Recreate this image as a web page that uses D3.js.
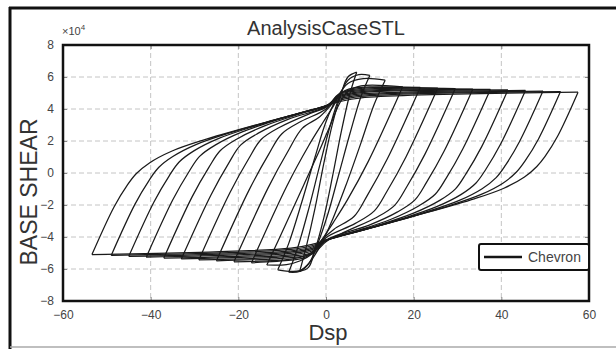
<!DOCTYPE html>
<html>
<head>
<meta charset="utf-8">
<script src="https://cdn.jsdelivr.net/npm/d3@7"></script>
<style>
body { margin: 0; background: #fff; }
svg { display: block; }
text { font-family: "Liberation Sans", Arial, sans-serif; }
</style>
</head>
<body>
<svg width="616" height="349"></svg>
<script>
// axis ticks
const xTicks = [-60, -40, -20, 0, 20, 40, 60];
const yTicks = [-8, -6, -4, -2, 0, 2, 4, 6, 8];
const yExponent = 4;
const chartTitle = "AnalysisCaseSTL";
const xLabel = "Dsp";
const yLabel = "BASE SHEAR";
const seriesName = "Chevron";

// reloading branches [dsp, shear x1e4], negative tip -> positive tip
const loadBranches = [
    [[-6,-6.15],[-4.5,-4.6],[-2.5,-2.2],[-0.5,0.6],[1.5,3.1],[3.5,5.0],[5,6.0],[7,6.3]],
    [[-8.5,-6.2],[-6.5,-4.7],[-4,-2.3],[-1.5,0.4],[1,3.0],[3,4.7],[5,5.8],[7.5,6.15],[10,6.1]],
    [[-11,-6.05],[-8.5,-4.4],[-5.5,-1.8],[-2.5,1.0],[0,3.2],[2.5,4.7],[5,5.6],[8.5,5.9],[13.5,5.8]],
    [[-13.5,-5.75],[-9,-3.1],[-5,-0.7],[-1.5,1.4],[1,3.0],[3,4.3],[5,5.1],[8,5.45],[17.5,5.39]],
    [[-17,-5.61],[-8.87,-0.78],[-3.99,1.69],[-0.74,3.14],[1.5,4.1],[3.5,5.0],[6,5.3],[10,5.38],[21.5,5.35]],
    [[-21,-5.55],[-13.21,-0.93],[-8.54,1.42],[-5.43,2.79],[-1.5,3.5],[1,4.2],[3.5,5.0],[8,5.29],[25.5,5.31]],
    [[-25,-5.49],[-17.56,-1.07],[-13.09,1.16],[-10.11,2.44],[-5.64,3.23],[0,4.0],[3,4.95],[8,5.21],[29.5,5.28]],
    [[-29,-5.43],[-21.9,-1.22],[-17.64,0.89],[-14.8,2.09],[-10.54,2.86],[-3.44,3.74],[0,4.1],[3,4.9],[8,5.15],[33.5,5.25]],
    [[-33,-5.37],[-26.24,-1.37],[-22.19,0.62],[-19.49,1.74],[-15.44,2.49],[-8.68,3.35],[0,4.15],[3,4.83],[8,5.08],[37.5,5.22]],
    [[-37,-5.32],[-30.58,-1.51],[-26.72,0.35],[-24.15,1.39],[-20.3,2.13],[-13.87,2.96],[-4.88,3.78],[0,4.2],[3,4.77],[8,5.02],[41.5,5.19]],
    [[-41,-5.26],[-34.92,-1.66],[-31.27,0.08],[-28.84,1.04],[-25.19,1.76],[-19.11,2.57],[-10.6,3.36],[-4,3.9],[0,4.2],[3,4.69],[8,4.94],[45.5,5.16]],
    [[-45,-5.21],[-39.25,-1.81],[-35.8,-0.19],[-33.5,0.69],[-30.05,1.4],[-24.3,2.18],[-16.25,2.93],[-7,3.67],[0,4.2],[3,4.61],[8,4.86],[49.5,5.12]],
    [[-49,-5.15],[-43.6,-1.96],[-40.35,-0.46],[-38.19,0.34],[-34.95,1.03],[-29.54,1.79],[-21.98,2.51],[-10,3.45],[0,4.2],[3,4.54],[8,4.79],[53.5,5.09]],
    [[-53.4,-5.1],[-48.36,-2.12],[-45.33,-0.76],[-43.31,-0.05],[-40.28,0.63],[-35.24,1.36],[-28.18,2.04],[-12,3.3],[0,4.2],[3,4.45],[8,4.7],[57.5,5.05]]
];

// unloading branches, positive tip -> negative tip
const unloadBranches = [
    [[7,6.3],[5.5,5.0],[3.5,2.6],[1.5,-0.2],[-0.5,-2.8],[-2.5,-4.8],[-4,-5.9],[-6,-6.15]],
    [[10,6.1],[8,4.8],[5.5,2.5],[3,0],[0.5,-2.5],[-2,-4.5],[-4,-5.7],[-6,-6.15],[-8.5,-6.2]],
    [[13.5,5.8],[11,4.3],[8,1.9],[4.5,-0.8],[1.5,-2.9],[-1,-4.4],[-3.5,-5.5],[-6,-6.1],[-11,-6.05]],
    [[17.5,5.39],[9.62,0.71],[4.88,-1.68],[1.73,-3.07],[-1,-4.2],[-3,-5.0],[-6,-5.5],[-9,-5.72],[-13.5,-5.75]],
    [[21.5,5.35],[13.94,0.86],[9.4,-1.41],[6.38,-2.72],[1.84,-3.51],[-1,-4.2],[-3,-4.9],[-5,-5.3],[-8,-5.45],[-17,-5.61]],
    [[25.5,5.31],[18.27,1.02],[13.92,-1.14],[11.03,-2.37],[6.69,-3.15],[0,-4.04],[-2,-4.7],[-4,-5.1],[-8,-5.38],[-21,-5.55]],
    [[29.5,5.28],[22.58,1.18],[18.43,-0.86],[15.66,-2.02],[11.51,-2.78],[4.59,-3.65],[0,-4.3],[-3,-5.04],[-8,-5.29],[-25,-5.49]],
    [[33.5,5.25],[26.9,1.34],[22.93,-0.59],[20.29,-1.68],[16.33,-2.43],[9.72,-3.27],[0.48,-4.12],[-3,-4.95],[-8,-5.2],[-29,-5.43]],
    [[37.5,5.22],[31.2,1.5],[27.43,-0.32],[24.91,-1.33],[21.13,-2.06],[14.84,-2.89],[6.03,-3.7],[0,-4.22],[-3,-4.86],[-8,-5.11],[-33,-5.37]],
    [[41.5,5.19],[35.52,1.65],[31.93,-0.05],[29.54,-0.99],[25.95,-1.71],[19.97,-2.51],[11.6,-3.29],[0,-4.2],[-3,-4.77],[-8,-5.02],[-37,-5.32]],
    [[45.5,5.16],[39.84,1.81],[36.44,0.22],[34.17,-0.64],[30.77,-1.35],[25.11,-2.12],[17.18,-2.87],[8,-3.6],[0,-4.2],[-3,-4.69],[-8,-4.94],[-41,-5.26]],
    [[49.5,5.12],[44.16,1.97],[40.96,0.49],[38.82,-0.29],[35.62,-0.98],[30.28,-1.73],[22.8,-2.44],[10,-3.45],[0,-4.2],[-3,-4.61],[-8,-4.86],[-45,-5.21]],
    [[53.5,5.09],[48.48,2.13],[45.46,0.77],[43.45,0.06],[40.44,-0.62],[35.41,-1.34],[28.38,-2.02],[14,-3.15],[0,-4.2],[-3,-4.53],[-8,-4.78],[-49,-5.15]],
    [[57.5,5.05],[52.8,2.28],[49.98,1.04],[48.1,0.41],[45.28,-0.25],[40.58,-0.95],[34.0,-1.6],[20,-2.7],[8,-3.6],[0,-4.2],[-3,-4.45],[-8,-4.7],[-53.4,-5.1]]
];

const svg = d3.select("svg");
const plot = {left: 63, right: 589, top: 45, bottom: 301};

const x = d3.scaleLinear().domain([-60, 60]).range([plot.left, plot.right]);
const y = d3.scaleLinear().domain([-8, 8]).range([plot.bottom, plot.top]);

// outer frame
svg.append("line").attr("x1", 10).attr("x2", 10).attr("y1", 7).attr("y2", 349)
    .attr("stroke", "#111").attr("stroke-width", 3);
svg.append("line").attr("x1", 9).attr("x2", 616).attr("y1", 8).attr("y2", 8)
    .attr("stroke", "#111").attr("stroke-width", 3);
svg.append("line").attr("x1", 10).attr("x2", 616).attr("y1", 347).attr("y2", 347)
    .attr("stroke", "#aaa").attr("stroke-width", 1.5);

// grid
const grid = svg.append("g");
xTicks.slice(1, -1).forEach(t => {
    grid.append("line").attr("x1", x(t)).attr("x2", x(t)).attr("y1", plot.top).attr("y2", plot.bottom)
        .attr("stroke", "#c4c4c4").attr("stroke-dasharray", "5,3");
});
yTicks.slice(1, -1).forEach(t => {
    grid.append("line").attr("x1", plot.left).attr("x2", plot.right).attr("y1", y(t)).attr("y2", y(t))
        .attr("stroke", "#c4c4c4").attr("stroke-dasharray", "5,3");
});

// hysteresis loops
const line = d3.line()
    .x(d => x(d[0]))
    .y(d => y(d[1]))
    .curve(d3.curveCatmullRom.alpha(0.5));

const loops = svg.append("g").attr("fill", "none").attr("stroke", "#1a1a1a")
    .attr("stroke-width", 1.25).attr("stroke-linejoin", "round");
for (let i = 0; i < loadBranches.length; i++) {
    loops.append("path").attr("d", line(loadBranches[i]));
    loops.append("path").attr("d", line(unloadBranches[i]));
}

// axes
const tickColor = "#444";
const xAxis = svg.append("g").attr("transform", `translate(0,${plot.bottom})`)
    .call(d3.axisBottom(x).tickValues(xTicks).tickSize(-4).tickPadding(9));
const xAxisTop = svg.append("g").attr("transform", `translate(0,${plot.top})`)
    .call(d3.axisTop(x).tickValues(xTicks).tickSize(-4).tickFormat(""));
const yAxis = svg.append("g").attr("transform", `translate(${plot.left},0)`)
    .call(d3.axisLeft(y).tickValues(yTicks).tickSize(-4).tickPadding(9));
const yAxisRight = svg.append("g").attr("transform", `translate(${plot.right},0)`)
    .call(d3.axisRight(y).tickValues(yTicks).tickSize(-4).tickFormat(""));

[xAxis, xAxisTop, yAxis, yAxisRight].forEach(a => {
    a.select(".domain").remove();
    a.selectAll(".tick line").attr("stroke", "#888");
    a.selectAll("text").attr("fill", tickColor).attr("font-size", 12)
        .attr("font-family", "\"Liberation Sans\", Arial, sans-serif");
});

// plot border
svg.append("rect").attr("x", plot.left).attr("y", plot.top)
    .attr("width", plot.right - plot.left).attr("height", plot.bottom - plot.top)
    .attr("fill", "none").attr("stroke", "#111").attr("stroke-width", 2.5);

// exponent label
const expo = svg.append("text").attr("x", plot.left - 1).attr("y", 35)
    .attr("font-size", 11).attr("fill", tickColor);
expo.append("tspan").text("\u00d710");
expo.append("tspan").attr("dy", -5).attr("font-size", 8).text(yExponent);

// titles
svg.append("text").attr("x", 326).attr("y", 35).attr("text-anchor", "middle")
    .attr("font-size", 20).attr("fill", "#333").text(chartTitle);
svg.append("text").attr("x", 328).attr("y", 340).attr("text-anchor", "middle")
    .attr("font-size", 22).attr("fill", "#333").text(xLabel);
svg.append("text").attr("transform", "translate(37,192) rotate(-90)").attr("text-anchor", "middle")
    .attr("font-size", 23).attr("fill", "#333").text(yLabel);

// legend
const legend = svg.append("g");
legend.append("rect").attr("x", 479).attr("y", 244).attr("width", 110).attr("height", 26)
    .attr("rx", 2).attr("fill", "#fff").attr("stroke", "#111").attr("stroke-width", 2);
legend.append("line").attr("x1", 484).attr("x2", 522).attr("y1", 257).attr("y2", 257)
    .attr("stroke", "#151515").attr("stroke-width", 2.5);
legend.append("text").attr("x", 528).attr("y", 262).attr("font-size", 14)
    .attr("fill", "#444").text(seriesName);
</script>
</body>
</html>
